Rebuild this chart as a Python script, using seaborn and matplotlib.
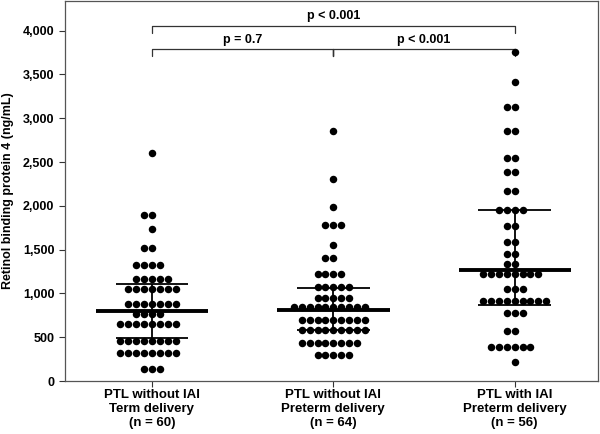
import numpy as np
import pandas as pd
import matplotlib
matplotlib.use('Agg')
import matplotlib.pyplot as plt
import seaborn as sns
from matplotlib.ticker import FuncFormatter

# Retinol binding protein 4 (ng/mL) per group
groups = ['PTL without IAI\nTerm delivery\n(n = 60)',
          'PTL without IAI\nPreterm delivery\n(n = 64)',
          'PTL with IAI\nPreterm delivery\n(n = 56)']

term_no_iai = [2600, 1890, 1890, 1740, 1520, 1520,
               1330, 1330, 1330, 1330,
               1160, 1160, 1160, 1160, 1160,
               1050, 1050, 1050, 1050, 1050, 1050, 1050,
               875, 875, 875, 875, 875, 875, 875,
               770, 770, 770, 770,
               650, 650, 650, 650, 650, 650, 650, 650,
               460, 460, 460, 460, 460, 460, 460, 460,
               325, 325, 325, 325, 325, 325, 325, 325,
               140, 140, 140]

preterm_no_iai = [2860, 2310, 1990, 1780, 1780, 1780, 1550, 1400, 1400,
                  1220, 1220, 1220, 1220,
                  1075, 1075, 1075, 1075, 1075,
                  945, 945, 945, 945, 945,
                  840, 840, 840, 840, 840, 840, 840, 840, 840, 840,
                  695, 695, 695, 695, 695, 695, 695, 695, 695,
                  580, 580, 580, 580, 580, 580, 580, 580, 580,
                  430, 430, 430, 430, 430, 430, 430, 430,
                  300, 300, 300, 300, 300]

preterm_iai = [3760, 3410, 3130, 3130, 2850, 2850, 2550, 2550,
               2390, 2390, 2165, 2165, 1955, 1955, 1955, 1955,
               1765, 1765, 1590, 1590, 1450, 1450, 1335, 1335,
               1220, 1220, 1220, 1220, 1220, 1220, 1220, 1220,
               1050, 1050, 1050,
               915, 915, 915, 915, 915, 915, 915, 915, 915,
               780, 780, 780, 570, 570,
               390, 390, 390, 390, 390, 390, 220]

medians = [800, 808, 1265]
q1 = [488, 579, 869]
q3 = [1105, 1067, 1954]

# comparisons: (group a, group b, bracket height, label)
comparisons = [(0, 1, 3785, 'p = 0.7'),
               (1, 2, 3785, 'p < 0.001'),
               (0, 2, 4055, 'p < 0.001')]

df = pd.DataFrame({
    'group': [groups[0]] * len(term_no_iai) + [groups[1]] * len(preterm_no_iai)
             + [groups[2]] * len(preterm_iai),
    'rbp4': term_no_iai + preterm_no_iai + preterm_iai,
})

sns.set_style('white')
plt.rcParams['font.family'] = ['Liberation Sans', 'DejaVu Sans']
plt.rcParams['font.weight'] = 'bold'
plt.rcParams['text.color'] = 'black'
plt.rcParams['axes.labelcolor'] = 'black'
plt.rcParams['xtick.color'] = 'black'
plt.rcParams['ytick.color'] = 'black'

fig = plt.figure(figsize=(6, 4.34), dpi=100)
ax = fig.add_axes([0.108, 0.122, 0.889, 0.876])

sns.swarmplot(data=df, x='group', y='rbp4', order=groups, color='black',
              size=5.4, ax=ax, zorder=3)

for i in range(len(groups)):
    ax.hlines(medians[i], i - 0.31, i + 0.31, color='black', lw=2.8, zorder=4)
    ax.hlines([q1[i], q3[i]], i - 0.2, i + 0.2, color='black', lw=1.3, zorder=4)
    ax.vlines(i, q1[i], q3[i], color='black', lw=1.3, zorder=4)

for a, b, h, label in comparisons:
    ax.plot([a, a, b, b], [h - 80, h, h, h - 80], color='#333333', lw=0.9)
    ax.text((a + b) / 2, h + 45, label, ha='center', va='bottom', fontsize=9)
ax.plot([1, 1], [3785 - 80, 3785], color='#333333', lw=0.9)

ax.set_xlim(-0.48, 2.46)
ax.set_ylim(0, 4340)
ax.set_yticks(np.arange(0, 4001, 500))
ax.yaxis.set_major_formatter(FuncFormatter(lambda v, p: f'{int(v):,}'))
ax.tick_params(axis='both', direction='out', length=4, width=0.8, labelsize=9,
               left=True, bottom=True, color='#333333')
ax.tick_params(axis='x', labelsize=9.5, pad=2)
for t in ax.get_xticklabels():
    t.set_linespacing(1.2)
ax.set_xlabel('')
ax.set_ylabel('Retinol binding protein 4 (ng/mL)', fontsize=9, fontweight='bold',
              labelpad=6)
for s in ax.spines.values():
    s.set_color('#555555')
    s.set_linewidth(0.9)

fig.savefig('out.png', dpi=100)
